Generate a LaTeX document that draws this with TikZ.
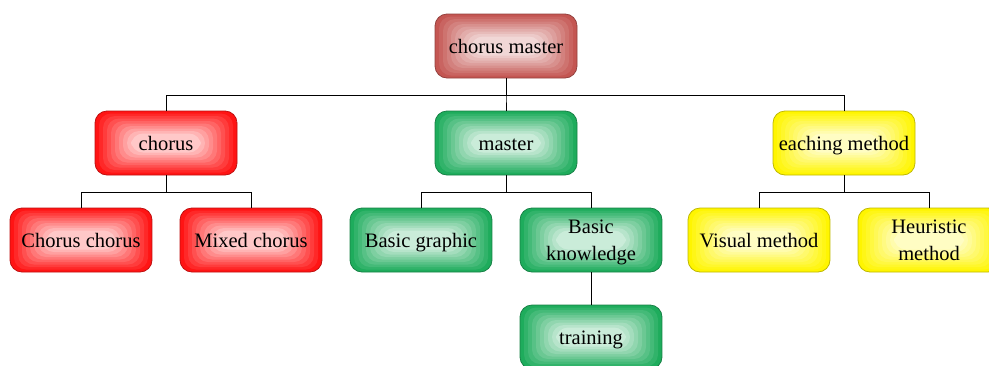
\documentclass[tikz,border=0pt]{standalone}
\usepackage{fontspec}
\setmainfont{Liberation Serif}
\usetikzlibrary{calc}

\begin{document}
\begin{tikzpicture}
  [x=1pt,y=-1pt,line cap=round,
   % Styles
   box/.style={rounded corners=12pt,draw=#1!75!black,line width=0.8pt,
     minimum width=142pt,minimum height=64pt,align=center,inner sep=2pt,
     text height=14pt,text depth=0pt,font=\fontsize{20.5}{27}\selectfont,
     path picture={
       \foreach \k [evaluate=\k as \p using 100-8.5*\k] in {0,...,9}
         \fill[#1!\p!white]
           ([shift={(\k*4pt,-\k*2.5pt)}]path picture bounding box.north west) rectangle
           ([shift={(-\k*4pt,\k*2.5pt)}]path picture bounding box.south east);
     }},
   twoline/.style={text height={}},
   link/.style={black,line width=0.8pt}]

  % Local definitions
  \def\gap{16.5}

  % Colors
  \definecolor{rootcolor}{RGB}{196,86,82}
  \definecolor{chorcolor}{RGB}{255,20,20}
  \definecolor{mastcolor}{RGB}{30,172,92}
  \definecolor{teachcolor}{RGB}{255,245,0}

  % The graphic
  \useasboundingbox (0,0) rectangle (989,365);
  \clip (0,0) rectangle (989,365);

  \node[box=rootcolor] (root) at (506,46) {chorus master};

  \node[box=chorcolor]  (chorus) at (166,143) {chorus};
  \node[box=mastcolor]  (master) at (506,143) {master};
  \node[box=teachcolor] (teach)  at (844,143) {eaching method};

  \node[box=chorcolor]  (chch)   at (81,240)  {Chorus chorus};
  \node[box=chorcolor]  (mixed)  at (251,240) {Mixed chorus};
  \node[box=mastcolor]  (graph)  at (421,240) {Basic graphic};
  \node[box=mastcolor,twoline]  (know) at (591,240) {Basic\\knowledge};
  \node[box=teachcolor] (visual) at (759,240) {Visual method};
  \node[box=teachcolor,twoline] (heur) at (929,240) {Heuristic\\method};

  \node[box=mastcolor]  (train)  at (591,337) {training};

  \foreach \a/\b in {root/chorus, root/master, root/teach,
                     chorus/chch, chorus/mixed, master/graph, master/know,
                     teach/visual, teach/heur}
    \draw[link] (\a.south) -- ++(0,\gap) -| (\b.north);

  \draw[link] (know.south) -- (train.north);
\end{tikzpicture}
\end{document}
